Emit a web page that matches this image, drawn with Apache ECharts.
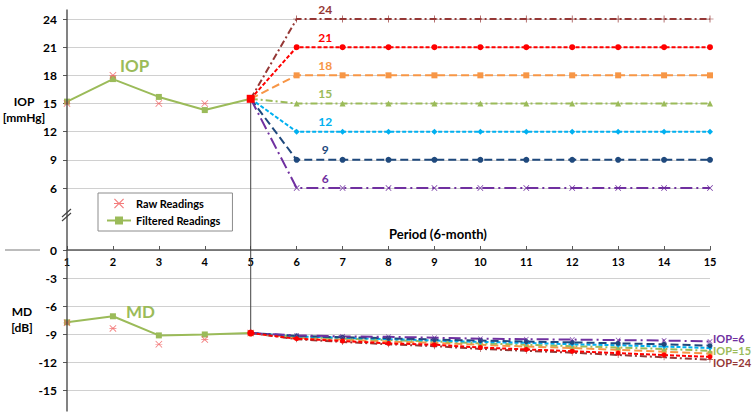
<!DOCTYPE html>
<html><head><meta charset="utf-8">
<script src="https://cdn.jsdelivr.net/npm/echarts/dist/echarts.min.js"></script>
<style>html,body{margin:0;padding:0;background:#fff}#c{width:754px;height:417px}</style>
</head><body><div id="c"></div>
<script>
// ---------- data ----------
const periods = [1, 2, 3, 4, 5];
const iopRaw = [15.0, 18.0, 15.0, 15.0, 15.5];
const iopFiltered = [15.2, 17.6, 15.7, 14.3, 15.5];
const mdRaw = [-7.8, -8.4, -10.1, -9.6, -8.9];
const mdFiltered = [-7.75, -7.1, -9.15, -9.05, -8.9];

const projPeriods = [5, 6, 7, 8, 9, 10, 11, 12, 13, 14, 15];
const targetIOP = [24, 21, 18, 15, 12, 9, 6];
const iopProj = {
  24: [15.5, 24, 24, 24, 24, 24, 24, 24, 24, 24, 24],
  21: [15.5, 21, 21, 21, 21, 21, 21, 21, 21, 21, 21],
  18: [15.5, 18, 18, 18, 18, 18, 18, 18, 18, 18, 18],
  15: [15.5, 15, 15, 15, 15, 15, 15, 15, 15, 15, 15],
  12: [15.5, 12, 12, 12, 12, 12, 12, 12, 12, 12, 12],
  9:  [15.5, 9, 9, 9, 9, 9, 9, 9, 9, 9, 9],
  6:  [15.5, 6, 6, 6, 6, 6, 6, 6, 6, 6, 6]
};
const mdProj = {
  24: [-8.9, -9.55, -9.85, -10.1, -10.3, -10.6, -10.8, -11.0, -11.25, -11.5, -11.75],
  21: [-8.9, -9.5, -9.75, -10.0, -10.15, -10.45, -10.65, -10.85, -11.05, -11.25, -11.45],
  18: [-8.9, -9.4, -9.6, -9.8, -9.95, -10.15, -10.35, -10.5, -10.7, -10.9, -11.1],
  15: [-8.9, -9.3, -9.5, -9.65, -9.8, -10.0, -10.15, -10.3, -10.45, -10.6, -10.8],
  12: [-8.9, -9.25, -9.4, -9.55, -9.7, -9.85, -9.95, -10.1, -10.2, -10.35, -10.5],
  9:  [-8.9, -9.2, -9.35, -9.45, -9.6, -9.7, -9.8, -9.9, -10.0, -10.1, -10.25],
  6:  [-8.9, -9.15, -9.25, -9.3, -9.4, -9.5, -9.55, -9.6, -9.65, -9.7, -9.8]
};
const mdEndLabels = {6: 'IOP=6', 15: 'IOP=15', 24: 'IOP=24'};
const iopTicks = [6, 24, 3];
const mdTicks = [-15, 0, 3];
const xTicks = [1, 15, 1];

// ---------- styles ----------
const FONT = 'Lato, "Open Sans", sans-serif';
const GREEN = '#9BBB59';
const RAWRED = '#F05A5A';
const PLUS = 'path://M5.4,0H6.6V5.4H12V6.6H6.6V12H5.4V6.6H0V5.4H5.4Z';
const XMARK = 'path://M0,1L1,0L6,5L11,0L12,1L7,6L12,11L11,12L6,7L1,12L0,11L5,6Z';
const AST = 'path://M0,1L1,0L6,5L11,0L12,1L7,6L12,11L11,12L6,7L1,12L0,11L5,6Z M0,5.4H12V6.6H0Z';
const projStyle = {
  24: {color: '#953735', dash: [7, 3, 2, 3], symbol: PLUS, size: 7},
  21: {color: '#FF0000', dash: [4, 2], symbol: 'circle', size: 6},
  18: {color: '#F79646', dash: [8, 4], symbol: 'rect', size: 6},
  15: {color: '#9BBB59', dash: [7, 3, 2, 3], symbol: 'triangle', size: 6},
  12: {color: '#00B0F0', dash: [4, 2], symbol: 'diamond', size: 6},
  9:  {color: '#1F497D', dash: [8, 4], symbol: 'circle', size: 6},
  6:  {color: '#7030A0', dash: [12, 4, 2, 4], symbol: XMARK, size: 6}
};
const IOP_LABEL_X = 6.62;
const END_OFFSETS = {6: -3, 15: 0, 24: 3};

const chart = echarts.init(document.getElementById('c'), null, {renderer: 'svg'});

const axisLabelStyle = {fontFamily: FONT, fontWeight: 'bold', fontSize: 11, color: '#000'};
const splitGray = {show: true, lineStyle: {color: '#D0D0D0', width: 1}};

const series = [];
series.push({
  name: 'Raw Readings', type: 'scatter', xAxisIndex: 0, yAxisIndex: 0,
  symbol: AST, symbolSize: 7, itemStyle: {color: RAWRED}, z: 5,
  data: periods.map((p, i) => [p, iopRaw[i]])
});
series.push({
  name: 'Filtered Readings', type: 'line', xAxisIndex: 0, yAxisIndex: 0,
  symbol: 'rect', symbolSize: 6, lineStyle: {color: GREEN, width: 2}, itemStyle: {color: GREEN}, z: 4,
  data: periods.map((p, i) => [p, iopFiltered[i]])
});
series.push({
  name: 'Raw Readings', type: 'scatter', xAxisIndex: 1, yAxisIndex: 1,
  symbol: AST, symbolSize: 7, itemStyle: {color: RAWRED}, z: 5,
  data: periods.map((p, i) => [p, mdRaw[i]])
});
series.push({
  name: 'Filtered Readings', type: 'line', xAxisIndex: 1, yAxisIndex: 1,
  symbol: 'rect', symbolSize: 6, lineStyle: {color: GREEN, width: 2}, itemStyle: {color: GREEN}, z: 4,
  data: periods.map((p, i) => [p, mdFiltered[i]])
});

targetIOP.forEach(t => {
  const st = projStyle[t];
  const firstSym = t === 21 ? 'rect' : 'none';
  series.push({
    name: 'IOP ' + t, type: 'line', xAxisIndex: 0, yAxisIndex: 0,
    symbol: st.symbol, symbolSize: st.size, showAllSymbol: true,
    lineStyle: {color: st.color, width: 2, type: st.dash},
    itemStyle: {color: st.color}, z: t === 21 ? 6 : 2,
    data: projPeriods.map((p, i) => i === 0 ? {value: [p, iopProj[t][i]], symbol: firstSym, symbolSize: 8} : [p, iopProj[t][i]]),
    markPoint: {
      symbol: 'circle', symbolSize: 0, silent: true,
      data: [{coord: [IOP_LABEL_X, t], value: t}],
      label: {show: true, position: 'top', distance: 4, formatter: String(t), color: st.color,
        fontFamily: FONT, fontWeight: 'bold', fontSize: 12}
    }
  });
});

targetIOP.forEach(t => {
  const st = projStyle[t];
  const firstSym = t === 21 ? 'circle' : 'none';
  const s = {
    name: 'MD ' + t, type: 'line', xAxisIndex: 1, yAxisIndex: 1,
    symbol: st.symbol, symbolSize: st.size - 1, showAllSymbol: true,
    lineStyle: {color: st.color, width: 2, type: st.dash},
    itemStyle: {color: st.color}, z: t === 21 ? 6 : 2,
    data: projPeriods.map((p, i) => i === 0 ? {value: [p, mdProj[t][i]], symbol: firstSym, symbolSize: 7} : [p, mdProj[t][i]])
  };
  if (mdEndLabels[t]) {
    s.endLabel = {show: true, formatter: mdEndLabels[t], color: st.color, distance: 3,
      offset: [0, END_OFFSETS[t]],
      fontFamily: FONT, fontWeight: 'bold', fontSize: 11, lineHeight: 11};
  }
  series.push(s);
});

const option = {
  backgroundColor: '#fff',
  animation: false,
  textStyle: {fontFamily: FONT},
  grid: [
    {left: 67, right: 44, top: 19, bottom: 229},
    {left: 67, right: 44, top: 250, bottom: 27}
  ],
  xAxis: [
    {gridIndex: 0, type: 'value', min: xTicks[0], max: xTicks[1], interval: xTicks[2], show: false},
    {gridIndex: 1, type: 'value', min: xTicks[0], max: xTicks[1], interval: xTicks[2], position: 'top',
      axisLine: {show: true, onZero: false, lineStyle: {color: '#595959', width: 1.5}},
      axisTick: {show: true, length: 4, lineStyle: {color: '#595959'}},
      axisLabel: Object.assign({inside: true, margin: 6}, axisLabelStyle),
      splitLine: {show: false}}
  ],
  yAxis: [
    {gridIndex: 0, type: 'value', min: iopTicks[0], max: iopTicks[1], interval: iopTicks[2],
      axisLine: {show: false}, axisTick: {show: true, length: 4, lineStyle: {color: '#595959'}},
      axisLabel: Object.assign({margin: 10}, axisLabelStyle, {fontSize: 12}),
      splitLine: splitGray},
    {gridIndex: 1, type: 'value', min: mdTicks[0], max: mdTicks[1], interval: mdTicks[2],
      axisLine: {show: false}, axisTick: {show: true, length: 4, lineStyle: {color: '#595959'}},
      axisLabel: Object.assign({margin: 10}, axisLabelStyle, {fontSize: 12}),
      splitLine: splitGray}
  ],
  legend: {
    orient: 'vertical', left: 98, top: 193, width: 123,
    data: ['Raw Readings', 'Filtered Readings'],
    backgroundColor: '#fff', borderColor: '#8C8C8C', borderWidth: 1, borderRadius: 0,
    padding: [5, 12, 5, 8], itemGap: 6, itemWidth: 24, itemHeight: 10,
    textStyle: {fontFamily: FONT, fontWeight: 'bold', fontSize: 11, color: '#000'}
  },
  series: series
};
chart.setOption(option);

// decorations positioned via the chart's own scales
const pTop = chart.convertToPixel({gridIndex: 0}, [periods[4], iopFiltered[4]]);
const pBot = chart.convertToPixel({gridIndex: 1}, [periods[4], mdFiltered[4]]);
const xAxisPx = chart.convertToPixel({gridIndex: 1}, [xTicks[0], 0]);
const yTopPx = chart.convertToPixel({gridIndex: 0}, [xTicks[0], iopTicks[1] + 1]);
const yBotPx = chart.convertToPixel({gridIndex: 1}, [xTicks[0], mdTicks[0] - 2.3]);
const x0 = xAxisPx[0];
const nameFont = 'bold 12px ' + FONT;
chart.setOption({
  graphic: [
    {type: 'line', shape: {x1: x0, y1: yTopPx[1], x2: x0, y2: yBotPx[1]}, style: {stroke: '#404040', lineWidth: 1.3}, z: 10},
    {type: 'line', shape: {x1: pTop[0], y1: pTop[1], x2: pBot[0], y2: pBot[1]}, style: {stroke: '#404040', lineWidth: 1}, z: 1},
    {type: 'line', shape: {x1: 5, y1: xAxisPx[1], x2: 40, y2: xAxisPx[1]}, style: {stroke: '#A6A6A6', lineWidth: 1.5}},
    {type: 'line', shape: {x1: x0 - 5, y1: 217, x2: x0 + 4, y2: 209}, style: {stroke: '#404040', lineWidth: 1.2}, z: 11},
    {type: 'line', shape: {x1: x0 - 5, y1: 221, x2: x0 + 4, y2: 213}, style: {stroke: '#404040', lineWidth: 1.2}, z: 11},
    {type: 'text', x: 24, y: 95, style: {text: 'IOP', fill: '#000', font: nameFont, textAlign: 'center'}},
    {type: 'text', x: 24, y: 111, style: {text: '[mmHg]', fill: '#000', font: nameFont, textAlign: 'center'}},
    {type: 'text', x: 22, y: 305, style: {text: 'MD', fill: '#000', font: nameFont, textAlign: 'center'}},
    {type: 'text', x: 22, y: 321, style: {text: '[dB]', fill: '#000', font: nameFont, textAlign: 'center'}},
    {type: 'text', left: 120, top: 57, style: {text: 'IOP', fill: GREEN, font: 'bold 17px ' + FONT}},
    {type: 'text', left: 126, top: 303, style: {text: 'MD', fill: GREEN, font: 'bold 17px ' + FONT}},
    {type: 'text', left: 389, top: 227, style: {text: 'Period (6-month)', fill: '#000', font: 'bold 13px ' + FONT}}
  ]
});
</script></body></html>
